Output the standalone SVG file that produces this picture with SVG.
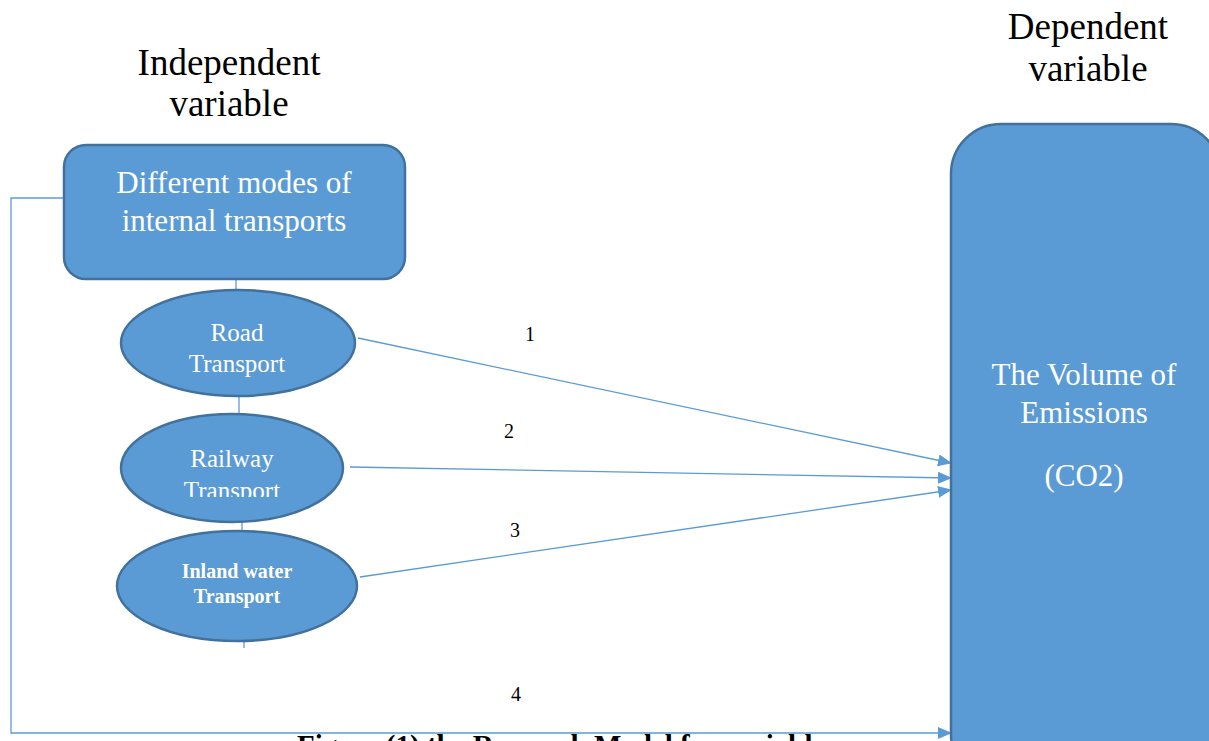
<svg xmlns="http://www.w3.org/2000/svg" width="1209" height="741" viewBox="0 0 1209 741">
<style>
.shape{fill:#5B9BD5;stroke:#41719C;stroke-width:2.5}
.conn{fill:none;stroke:#5B9BD5;stroke-width:1.3}
.wt{fill:#fff;font-family:"Liberation Serif","Times New Roman",serif;text-anchor:middle}
.bt{fill:#000;font-family:"Liberation Serif","Times New Roman",serif;text-anchor:middle}
</style>
<defs>
<marker id="ah" viewBox="0 0 14 12" refX="13" refY="6" markerWidth="14" markerHeight="12" markerUnits="userSpaceOnUse" orient="auto">
<path d="M0,0 L14,6 L0,12 Z" fill="#5B9BD5"/>
</marker>
<clipPath id="railclip"><rect x="100" y="400" width="260" height="97"/></clipPath>
</defs>
<rect width="1209" height="741" fill="#fff"/>
<g id="headers">
<text class="bt" x="229" y="75" font-size="37">Independent</text>
<text class="bt" x="229" y="116" font-size="37">variable</text>
<text class="bt" x="1088" y="39" font-size="37">Dependent</text>
<text class="bt" x="1088" y="81" font-size="37">variable</text>
</g>
<g id="connectors">
<line class="conn" x1="236" y1="279" x2="236" y2="291"/>
<line class="conn" x1="239" y1="396" x2="239" y2="414"/>
<line class="conn" x1="242" y1="522" x2="242" y2="531"/>
<line class="conn" x1="244" y1="642" x2="244" y2="648"/>
<line class="conn" x1="358" y1="338" x2="951" y2="463" marker-end="url(#ah)"/>
<line class="conn" x1="350" y1="467" x2="951" y2="478" marker-end="url(#ah)"/>
<line class="conn" x1="360" y1="577" x2="951" y2="490" marker-end="url(#ah)"/>
<polyline class="conn" points="64,198 11,198 11,733 951,733" marker-end="url(#ah)"/>
</g>
<g id="labels">
<text class="bt" x="530" y="341" font-size="20">1</text>
<text class="bt" x="509" y="438" font-size="20">2</text>
<text class="bt" x="515" y="537" font-size="20">3</text>
<text class="bt" x="516" y="701" font-size="20">4</text>
</g>
<g id="node-modes">
<rect class="shape" x="64" y="145" width="341" height="134" rx="22"/>
<text class="wt" x="234" y="193" font-size="31">Different modes of</text>
<text class="wt" x="234" y="231" font-size="31">internal transports</text>
</g>
<g id="node-road">
<ellipse class="shape" cx="238" cy="343" rx="117" ry="53"/>
<text class="wt" x="237" y="341" font-size="25">Road</text>
<text class="wt" x="237" y="372" font-size="25">Transport</text>
</g>
<g id="node-railway">
<ellipse class="shape" cx="232" cy="468" rx="111" ry="54"/>
<g clip-path="url(#railclip)">
<text class="wt" x="232" y="467" font-size="25">Railway</text>
<text class="wt" x="232" y="499" font-size="25">Transport</text>
</g>
</g>
<g id="node-inland">
<ellipse class="shape" cx="237" cy="586" rx="120" ry="55"/>
<text class="wt" x="237" y="578" font-size="20" font-weight="bold">Inland water</text>
<text class="wt" x="237" y="603" font-size="20" font-weight="bold">Transport</text>
</g>
<g id="node-emissions">
<rect class="shape" x="951" y="124" width="270" height="660" rx="50"/>
<text class="wt" x="1084" y="385" font-size="31">The Volume of</text>
<text class="wt" x="1084" y="423" font-size="31">Emissions</text>
<text class="wt" x="1084" y="486" font-size="31">(CO2)</text>
</g>
<g id="caption">
<text x="297" y="755" font-size="29" font-weight="bold" font-family="Liberation Serif, Times New Roman, serif" fill="#000">Figure (1) the Research Model for variables</text>
</g>
</svg>
